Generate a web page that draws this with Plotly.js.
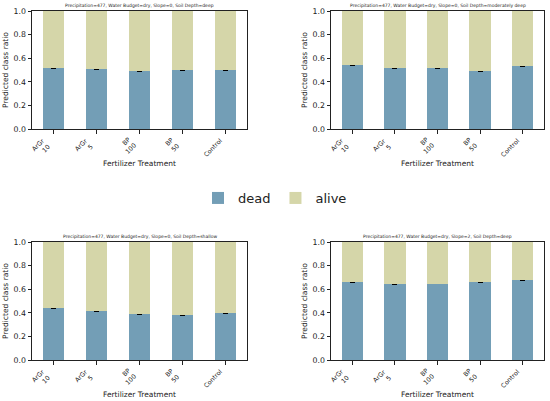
<!DOCTYPE html>
<html>
<head>
<meta charset="utf-8">
<script src="https://cdn.plot.ly/plotly-3.0.1.min.js"></script>
<style>
  html, body { margin: 0; padding: 0; background: #fff; }
  #plot { width: 550px; height: 401px; }
</style>
</head>
<body>
<div id="plot"></div>
<script>
// treatments on the x axis
var treatments = ['ArGr 10', 'ArGr 5', 'BP 100', 'BP 50', 'Control'];
var tickLabels = ['ArGr<br>10', 'ArGr<br>5', 'BP<br>100', 'BP<br>50', 'Control'];

// predicted share of "dead" per panel (alive = 1 - dead)
var deadDeep      = [0.515, 0.505, 0.490, 0.497, 0.502];
var deadModerate  = [0.540, 0.518, 0.515, 0.493, 0.535];
var deadShallow   = [0.440, 0.415, 0.388, 0.378, 0.397];
var deadSlope2    = [0.662, 0.645, 0.648, 0.660, 0.680];

// error bar half widths
var errDeep     = [0.003, 0.003, 0.003, 0.003, 0.003];
var errModerate = [0.003, 0.003, 0.003, 0.002, 0.003];
var errShallow  = [0.003, 0.003, 0.003, 0.002, 0.003];
var errSlope2   = [0.003, 0.003, 0.003, 0.003, 0.003];

var panelTitles = [
  'Precipitation=477, Water Budget=dry, Slope=0, Soil Depth=deep',
  'Precipitation=477, Water Budget=dry, Slope=0, Soil Depth=moderately deep',
  'Precipitation=477, Water Budget=dry, Slope=0, Soil Depth=shallow',
  'Precipitation=477, Water Budget=dry, Slope=2, Soil Depth=deep'
];

var deadColor = '#739eb6';
var aliveColor = '#d5d6a9';

var panels = [
  {dead: deadDeep, err: errDeep},
  {dead: deadModerate, err: errModerate},
  {dead: deadShallow, err: errShallow},
  {dead: deadSlope2, err: errSlope2}
];

var data = [];
panels.forEach(function (p, i) {
  var n = i === 0 ? '' : String(i + 1);
  data.push({
    type: 'bar', x: treatments, y: p.dead, name: 'dead',
    marker: {color: deadColor}, width: 0.5,
    error_y: {type: 'data', array: p.err, color: '#000', thickness: 1, width: 2.5},
    xaxis: 'x' + n, yaxis: 'y' + n,
    showlegend: i === 0, legendgroup: 'dead'
  });
  data.push({
    type: 'bar', x: treatments, y: p.dead.map(function (v) { return 1 - v; }), name: 'alive',
    marker: {color: aliveColor}, width: 0.5,
    xaxis: 'x' + n, yaxis: 'y' + n,
    showlegend: i === 0, legendgroup: 'alive'
  });
});

var fam = 'DejaVu Sans, sans-serif';
var ink = '#222';
var tickSize = 7.8;
var xTickSize = 6.3;
var titleSize = 7.5;

function xax(domain, anchor) {
  return {
    domain: domain, anchor: anchor, range: [-0.5, 4.5],
    showline: true, mirror: true, linecolor: ink, linewidth: 1,
    ticks: 'outside', ticklen: 3.5, tickcolor: ink,
    showticklabels: false,
    showgrid: false, zeroline: false, fixedrange: true
  };
}
function yax(domain, anchor) {
  return {
    domain: domain, anchor: anchor, range: [0, 1],
    tickvals: [0, 0.2, 0.4, 0.6, 0.8, 1.0], ticktext: ['0.0', '0.2', '0.4', '0.6', '0.8', '1.0'],
    showline: true, mirror: true, linecolor: ink, linewidth: 1,
    ticks: 'outside', ticklen: 3.5, tickcolor: ink,
    tickfont: {family: fam, size: tickSize, color: ink},
    title: {text: 'Predicted class ratio', font: {family: fam, size: titleSize, color: ink}, standoff: 3},
    showgrid: false, zeroline: false, fixedrange: true
  };
}

var xLeft = [32 / 550, 247 / 550];
var xRight = [331 / 550, 544 / 550];
var yTop = [1 - 129 / 401, 1 - 11 / 401];
var yBottom = [1 - 360 / 401, 1 - 242 / 401];

var annotations = [];
panelTitles.forEach(function (t, i) {
  var n = i === 0 ? '' : String(i + 1);
  var xd = (i % 2 === 0) ? xLeft : xRight;
  var yd = (i < 2) ? yTop : yBottom;
  var xc = (xd[0] + xd[1]) / 2;
  // panel title
  annotations.push({
    text: t, xref: 'paper', yref: 'paper',
    x: xc, y: yd[1], yshift: 1,
    xanchor: 'center', yanchor: 'bottom', showarrow: false,
    font: {family: fam, size: 4.5, color: ink}
  });
  // x axis title
  annotations.push({
    text: 'Fertilizer Treatment', xref: 'paper', yref: 'paper',
    x: xc, y: yd[0], yshift: -34,
    xanchor: 'center', yanchor: 'middle', showarrow: false,
    font: {family: fam, size: titleSize, color: ink}
  });
  // rotated tick labels, right aligned to each tick like matplotlib
  tickLabels.forEach(function (lab, k) {
    annotations.push({
      text: lab, xref: 'x' + n, yref: 'y' + n,
      x: treatments[k], y: 0, xshift: -1, yshift: -6,
      xanchor: 'right', yanchor: 'top', align: 'right',
      textangle: -45, showarrow: false, borderpad: 0,
      font: {family: fam, size: xTickSize, color: ink}
    });
  });
});

var layout = {
  width: 550, height: 401,
  margin: {l: 0, r: 0, t: 0, b: 0},
  paper_bgcolor: '#fff', plot_bgcolor: '#fff',
  barmode: 'stack', bargap: 0.5,
  font: {family: fam, color: ink},
  showlegend: true,
  legend: {
    orientation: 'h', x: 0.5, xanchor: 'center', y: 1 - 198 / 401, yanchor: 'middle',
    font: {family: fam, size: 13, color: ink}, itemwidth: 30,
    bgcolor: 'rgba(0,0,0,0)'
  },
  xaxis: xax(xLeft, 'y'), yaxis: yax(yTop, 'x'),
  xaxis2: xax(xRight, 'y2'), yaxis2: yax(yTop, 'x2'),
  xaxis3: xax(xLeft, 'y3'), yaxis3: yax(yBottom, 'x3'),
  xaxis4: xax(xRight, 'y4'), yaxis4: yax(yBottom, 'x4'),
  annotations: annotations
};

Plotly.newPlot('plot', data, layout, {displayModeBar: false, staticPlot: true});
</script>
</body>
</html>
